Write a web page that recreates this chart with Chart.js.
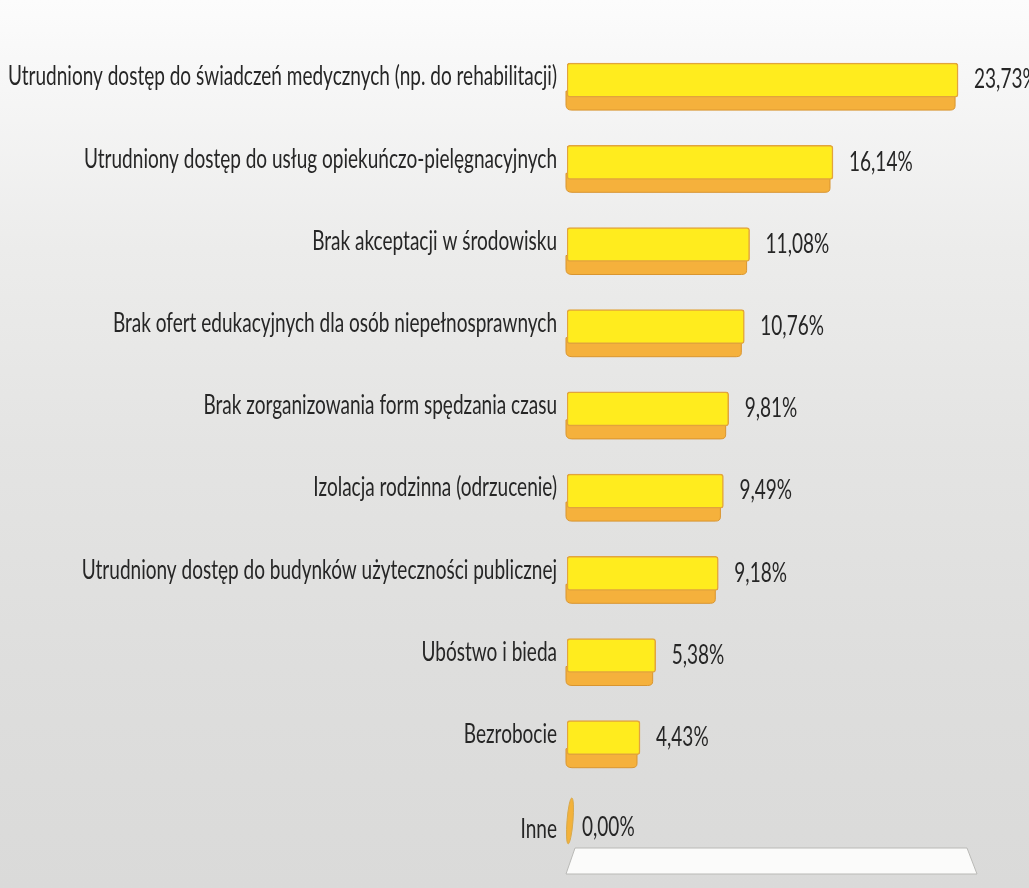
<!DOCTYPE html>
<html>
<head>
<meta charset="utf-8">
<script src="https://cdn.jsdelivr.net/npm/chart.js@4/dist/chart.umd.min.js"></script>
<style>
  html, body { margin: 0; padding: 0; }
  body {
    width: 1029px; height: 888px; overflow: hidden;
    background: linear-gradient(180deg, #fcfcfc 0%, #f6f6f6 10%, #ececeb 28%, #e4e4e3 50%, #dededd 75%, #dadad9 100%);
  }
  #wrap { position: relative; width: 1029px; height: 888px; }
</style>
</head>
<body>
<div id="wrap"><canvas id="c" width="1029" height="888"></canvas></div>
<script>
const categories = [
  "Utrudniony dostęp do świadczeń medycznych (np. do rehabilitacji)",
  "Utrudniony dostęp do usług opiekuńczo-pielęgnacyjnych",
  "Brak akceptacji w środowisku",
  "Brak ofert edukacyjnych dla osób niepełnosprawnych",
  "Brak zorganizowania form spędzania czasu",
  "Izolacja rodzinna (odrzucenie)",
  "Utrudniony dostęp do budynków użyteczności publicznej",
  "Ubóstwo i bieda",
  "Bezrobocie",
  "Inne"
];
const values = [23.73, 16.14, 11.08, 10.76, 9.81, 9.49, 9.18, 5.38, 4.43, 0.00];
const axisMax = 25;

const FONT = 'Lato, "Open Sans", "Noto Sans", sans-serif';
const FONT_SIZE = 26;
const TEXT = '#262626';
const LABEL_RIGHT = 557;
const LABEL_LEFT = 8;

function fmt(v) { return v.toFixed(2).replace('.', ',') + '%'; }

function drawCondensed(ctx, text, x, y, sx, align) {
  ctx.save();
  ctx.translate(x, y);
  ctx.scale(sx, 1);
  ctx.textAlign = align;
  ctx.fillText(text, 0, 0);
  ctx.restore();
}

const depthPlugin = {
  id: 'depth',
  beforeDatasetsDraw(chart) {
    const ctx = chart.ctx;
    const meta = chart.getDatasetMeta(0);
    const xs = chart.scales.x;
    // floor
    const x0 = xs.getPixelForValue(0), x1 = xs.getPixelForValue(axisMax);
    const fy = chart.chartArea.bottom - 13;
    ctx.save();
    ctx.beginPath();
    ctx.moveTo(x0 + 8, fy);
    ctx.lineTo(x1 - 12, fy);
    ctx.lineTo(x1 - 2, fy + 26);
    ctx.lineTo(x0 - 1, fy + 26);
    ctx.closePath();
    ctx.fillStyle = '#fbfbfa';
    ctx.fill();
    ctx.strokeStyle = '#b9b9b6';
    ctx.lineWidth = 1;
    ctx.stroke();
    ctx.restore();

    meta.data.forEach((bar, i) => {
      const p = bar.getProps(['x', 'y', 'base', 'height'], true);
      const h = p.height;
      const yb = p.y + h / 2;
      if (values[i] <= 0) return;
      ctx.save();
      ctx.beginPath();
      const left = p.base - 1, right = p.x - 3, top = yb - 6, bot = yb + 13;
      ctx.moveTo(left, top);
      ctx.lineTo(right, top);
      ctx.lineTo(right, bot - 4);
      ctx.quadraticCurveTo(right, bot, right - 5, bot);
      ctx.lineTo(left + 6, bot);
      ctx.quadraticCurveTo(left, bot, left, bot - 5);
      ctx.closePath();
      ctx.fillStyle = '#f5b13c';
      ctx.fill();
      ctx.strokeStyle = '#d9952f';
      ctx.lineWidth = 1;
      ctx.stroke();
      ctx.restore();
    });
  },
  afterDatasetsDraw(chart) {
    const ctx = chart.ctx;
    const meta = chart.getDatasetMeta(0);
    const ys = chart.scales.y;
    ctx.save();
    ctx.font = FONT_SIZE + 'px ' + FONT;
    ctx.fillStyle = TEXT;
    ctx.textBaseline = 'middle';
    // horizontal compression so the longest label spans the same width as in the original
    let maxW = 0;
    categories.forEach(c => { maxW = Math.max(maxW, ctx.measureText(c).width); });
    const sx = (LABEL_RIGHT - LABEL_LEFT) / maxW;

    categories.forEach((c, i) => {
      const y = ys.getPixelForTick(i);
      const dy = (i === categories.length - 1) ? 10 : -3;
      drawCondensed(ctx, c, LABEL_RIGHT, y + dy, sx, 'right');
    });

    meta.data.forEach((bar, i) => {
      const p = bar.getProps(['x', 'y', 'base', 'height'], true);
      if (values[i] <= 0) {
        ctx.save();
        ctx.beginPath();
        ctx.ellipse(p.base + 3, p.y + 1, 3, 23, 0.08, 0, Math.PI * 2);
        ctx.fillStyle = '#f3b23a';
        ctx.fill();
        ctx.strokeStyle = '#d8a84a';
        ctx.stroke();
        ctx.restore();
        drawCondensed(ctx, fmt(values[i]), p.x + 15, p.y + 8, sx, 'left');
      } else {
        drawCondensed(ctx, fmt(values[i]), p.x + 16, p.y, sx, 'left');
      }
    });
    ctx.restore();
  }
};

new Chart(document.getElementById('c'), {
  type: 'bar',
  data: {
    labels: categories,
    datasets: [{
      data: values,
      backgroundColor: '#ffec1e',
      borderColor: '#e2a43c',
      borderWidth: 1.5,
      borderRadius: 3,
      borderSkipped: false,
      barThickness: 34
    }]
  },
  options: {
    indexAxis: 'y',
    responsive: false,
    animation: false,
    layout: { padding: { left: 0, right: 50, top: 39, bottom: 27 } },
    plugins: { legend: { display: false }, tooltip: { enabled: false } },
    scales: {
      x: {
        min: 0, max: axisMax, display: false,
        grid: { display: false }
      },
      y: {
        grid: { display: false },
        border: { display: false },
        afterFit(scale) { scale.width = 567; },
        ticks: { display: false }
      }
    }
  },
  plugins: [depthPlugin]
});
</script>
</body>
</html>
